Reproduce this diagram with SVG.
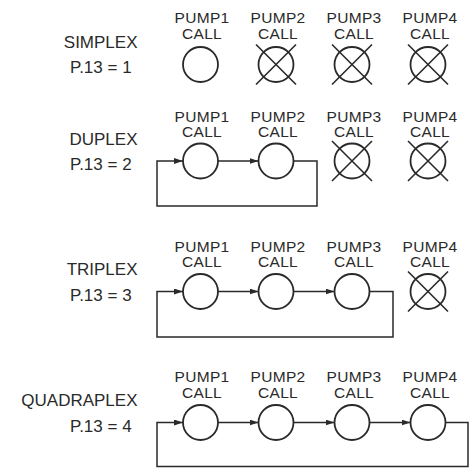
<svg xmlns="http://www.w3.org/2000/svg" width="472" height="472" viewBox="0 0 472 472">
<defs>
<style>
text{font-family:"Liberation Sans",Arial,sans-serif;fill:#2a2a2a}
.p{font-size:15.5px;text-anchor:middle;letter-spacing:0.3px}
.n{font-size:17px;text-anchor:end}
.v{font-size:17px;text-anchor:start}
.c{fill:#fff;stroke:#2a2a2a;stroke-width:1.8}
.x{stroke:#2a2a2a;stroke-width:1.6;fill:none}
.l{stroke:#2a2a2a;stroke-width:1.5;fill:none}
</style>
<marker id="ah" markerUnits="userSpaceOnUse" markerWidth="10" markerHeight="8" refX="9" refY="3" orient="auto">
<path d="M0,0 L9,3 L0,6 z" fill="#2a2a2a"/>
</marker>
<g id="xm"><circle class="c" cx="0" cy="0" r="17.5"/><path class="x" d="M-20,-20 L20,20 M20,-20 L-20,20"/></g>
</defs>
<rect width="472" height="472" fill="#fff"/>

<g id="row1">
<text class="n" x="137.5" y="48">SIMPLEX</text>
<text class="v" x="70" y="73">P.13 = 1</text>
<g id="r1p1"><text class="p" x="202" y="23">PUMP1</text><text class="p" x="202" y="38.5">CALL</text><circle class="c" cx="200.5" cy="64.5" r="17.5"/></g>
<g id="r1p2"><text class="p" x="278" y="23">PUMP2</text><text class="p" x="278" y="38.5">CALL</text><use href="#xm" x="276" y="64.5"/></g>
<g id="r1p3"><text class="p" x="354" y="23">PUMP3</text><text class="p" x="354" y="38.5">CALL</text><use href="#xm" x="352" y="64.5"/></g>
<g id="r1p4"><text class="p" x="430" y="23">PUMP4</text><text class="p" x="430" y="38.5">CALL</text><use href="#xm" x="428" y="64.5"/></g>
</g>

<g id="row2">
<text class="n" x="137.5" y="145">DUPLEX</text>
<text class="v" x="70" y="170">P.13 = 2</text>
<g id="r2p1"><text class="p" x="202" y="121.5">PUMP1</text><text class="p" x="202" y="137">CALL</text><circle class="c" cx="200.5" cy="161" r="17.5"/></g>
<g id="r2p2"><text class="p" x="278" y="121.5">PUMP2</text><text class="p" x="278" y="137">CALL</text><circle class="c" cx="276" cy="161" r="17.5"/></g>
<g id="r2p3"><text class="p" x="354" y="121.5">PUMP3</text><text class="p" x="354" y="137">CALL</text><use href="#xm" x="352" y="161"/></g>
<g id="r2p4"><text class="p" x="430" y="121.5">PUMP4</text><text class="p" x="430" y="137">CALL</text><use href="#xm" x="428" y="161"/></g>
</g>

<g id="row3">
<text class="n" x="137.5" y="275">TRIPLEX</text>
<text class="v" x="70" y="301">P.13 = 3</text>
<g id="r3p1"><text class="p" x="202" y="251.5">PUMP1</text><text class="p" x="202" y="267">CALL</text><circle class="c" cx="200.5" cy="291.5" r="17.5"/></g>
<g id="r3p2"><text class="p" x="278" y="251.5">PUMP2</text><text class="p" x="278" y="267">CALL</text><circle class="c" cx="276" cy="291.5" r="17.5"/></g>
<g id="r3p3"><text class="p" x="354" y="251.5">PUMP3</text><text class="p" x="354" y="267">CALL</text><circle class="c" cx="352" cy="291.5" r="17.5"/></g>
<g id="r3p4"><text class="p" x="430" y="251.5">PUMP4</text><text class="p" x="430" y="267">CALL</text><use href="#xm" x="428" y="291.5"/></g>
</g>

<g id="row4">
<text class="n" x="137.5" y="406">QUADRAPLEX</text>
<text class="v" x="70" y="432">P.13 = 4</text>
<g id="r4p1"><text class="p" x="202" y="382">PUMP1</text><text class="p" x="202" y="397.5">CALL</text><circle class="c" cx="200.5" cy="422.5" r="17.5"/></g>
<g id="r4p2"><text class="p" x="278" y="382">PUMP2</text><text class="p" x="278" y="397.5">CALL</text><circle class="c" cx="276" cy="422.5" r="17.5"/></g>
<g id="r4p3"><text class="p" x="354" y="382">PUMP3</text><text class="p" x="354" y="397.5">CALL</text><circle class="c" cx="352" cy="422.5" r="17.5"/></g>
<g id="r4p4"><text class="p" x="430" y="382">PUMP4</text><text class="p" x="430" y="397.5">CALL</text><circle class="c" cx="428" cy="422.5" r="17.5"/></g>
</g>

<g id="connectors">
<path class="l" d="M218,161 H258.5" marker-end="url(#ah)"/>
<path class="l" d="M293.5,161 H317 V206 H157 V161 H183" marker-end="url(#ah)"/>

<path class="l" d="M218,291.5 H258.5" marker-end="url(#ah)"/>
<path class="l" d="M293.5,291.5 H334.5" marker-end="url(#ah)"/>
<path class="l" d="M369.5,291.5 H393 V337 H157 V291.5 H183" marker-end="url(#ah)"/>

<path class="l" d="M218,422.5 H258.5" marker-end="url(#ah)"/>
<path class="l" d="M293.5,422.5 H334.5" marker-end="url(#ah)"/>
<path class="l" d="M369.5,422.5 H410.5" marker-end="url(#ah)"/>
<path class="l" d="M445.5,422.5 H468 V466.5 H157 V422.5 H183" marker-end="url(#ah)"/>
</g>
</svg>
